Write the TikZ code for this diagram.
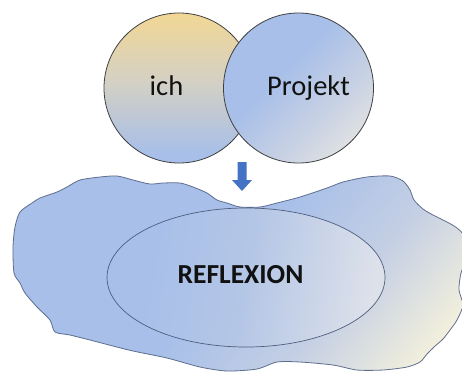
\documentclass[tikz,border=0pt]{standalone}
\usepackage{fontspec}
\setmainfont{Carlito}
\definecolor{cblue}{HTML}{A7BFE9}
\definecolor{cblue2}{HTML}{B4C6E6}
\definecolor{cyel}{HTML}{F8D98A}
\definecolor{cbeige}{HTML}{D4D0C4}
\definecolor{cmid}{HTML}{C4CFE4}
\definecolor{clight}{HTML}{E7E6E2}
\definecolor{ccream}{HTML}{F5F1DC}
\definecolor{celll}{HTML}{DDE1EA}
\definecolor{arrowblue}{HTML}{4472C4}
\definecolor{outl}{HTML}{3F3F3F}
\definecolor{blobline}{HTML}{5E6E8E}
\definecolor{ellline}{HTML}{4E5E7E}
\definecolor{txt}{HTML}{111111}
\pgfdeclareverticalshading{ichshade}{100bp}{color(0bp)=(cblue); color(28bp)=(cblue); color(52bp)=(cbeige); color(80bp)=(cyel); color(100bp)=(cyel)}
\pgfdeclarehorizontalshading{projshade}{100bp}{color(0bp)=(cblue); color(42bp)=(cblue); color(60bp)=(cmid); color(80bp)=(clight); color(100bp)=(clight)}
\pgfdeclarehorizontalshading{blobshade}{100bp}{color(0bp)=(cblue); color(48bp)=(cblue); color(64bp)=(cmid); color(80bp)=(ccream); color(100bp)=(ccream)}
\pgfdeclarehorizontalshading{ellshade}{100bp}{color(0bp)=(cblue); color(30bp)=(cblue); color(50bp)=(cblue2); color(75bp)=(celll); color(100bp)=(celll)}
\tikzset{
  bubble/.style={circle, minimum size=150pt, inner sep=0pt, draw=outl, line width=0.8pt, shade},
  lbl/.style={text=txt, inner sep=0pt, anchor=base, font=\fontsize{28.5}{32}\selectfont},
  biglbl/.style={text=txt, inner sep=0pt, anchor=base, font=\bfseries\fontsize{27.5}{30}\selectfont},
  blobstyle/.style={draw=blobline, line width=0.8pt, shade, shading=blobshade, shading angle=-40},
  ellstyle/.style={ellipse, minimum width=278pt, minimum height=139pt, inner sep=0pt, draw=ellline, line width=0.7pt, shade, shading=ellshade, shading angle=-10},
  blockarrow/.style={fill=arrowblue, draw=none}
}
\usetikzlibrary{shapes.geometric}
\begin{document}
\begin{tikzpicture}[x=1pt,y=-1pt]
\useasboundingbox (0,0) rectangle (462,373);
\fill[white] (0,0) rectangle (462,373);
\clip (0,0) rectangle (462,373);
% cloud-like blob
\draw[blobstyle] plot[smooth cycle, tension=0.45] coordinates {
 (32,203) (40,198) (57,192) (67,187) (80,180) (100,177) (117,176) (133,180)
 (150,184) (163,183) (180,183) (193,187) (207,193) (217,200) (227,203)
 (240,207) (260,207) (277,203) (300,197) (327,188) (343,182) (367,177)
 (390,176) (403,181) (410,190) (414,200) (423,209) (433,215) (447,222)
 (457,228) (464,236) (468,255) (461,273) (459,290) (463,305) (457,320)
 (450,330) (443,339) (434,347) (427,354) (420,362) (407,367) (383,370)
 (357,370) (333,365) (300,362) (277,362) (257,369) (227,371) (200,367)
 (167,358) (133,351) (113,346) (90,340) (70,335) (55,332) (50,320)
 (37,307) (25,293) (20,283) (14,273) (13,247) (15,227) (20,212)};
\node[ellstyle] (refl) at (246,277.5) {};
\node[bubble, shading=ichshade] (ich) at (179,88) {};
\node[bubble, shading=projshade, shading angle=-45] (proj) at (298.5,88) {};
% block arrow
\fill[blockarrow] (237.5,162) -- (246.5,162) -- (246.5,180) -- (252,180)
  -- (242,191) -- (232,180) -- (237.5,180) -- cycle;
\node[lbl] (tich) at (166.5,95) {ich};
\node[lbl] (tproj) at (308.5,95) {Projekt};
\node[biglbl] (trefl) at (240.5,283) {REFLEXION};
\end{tikzpicture}
\end{document}
